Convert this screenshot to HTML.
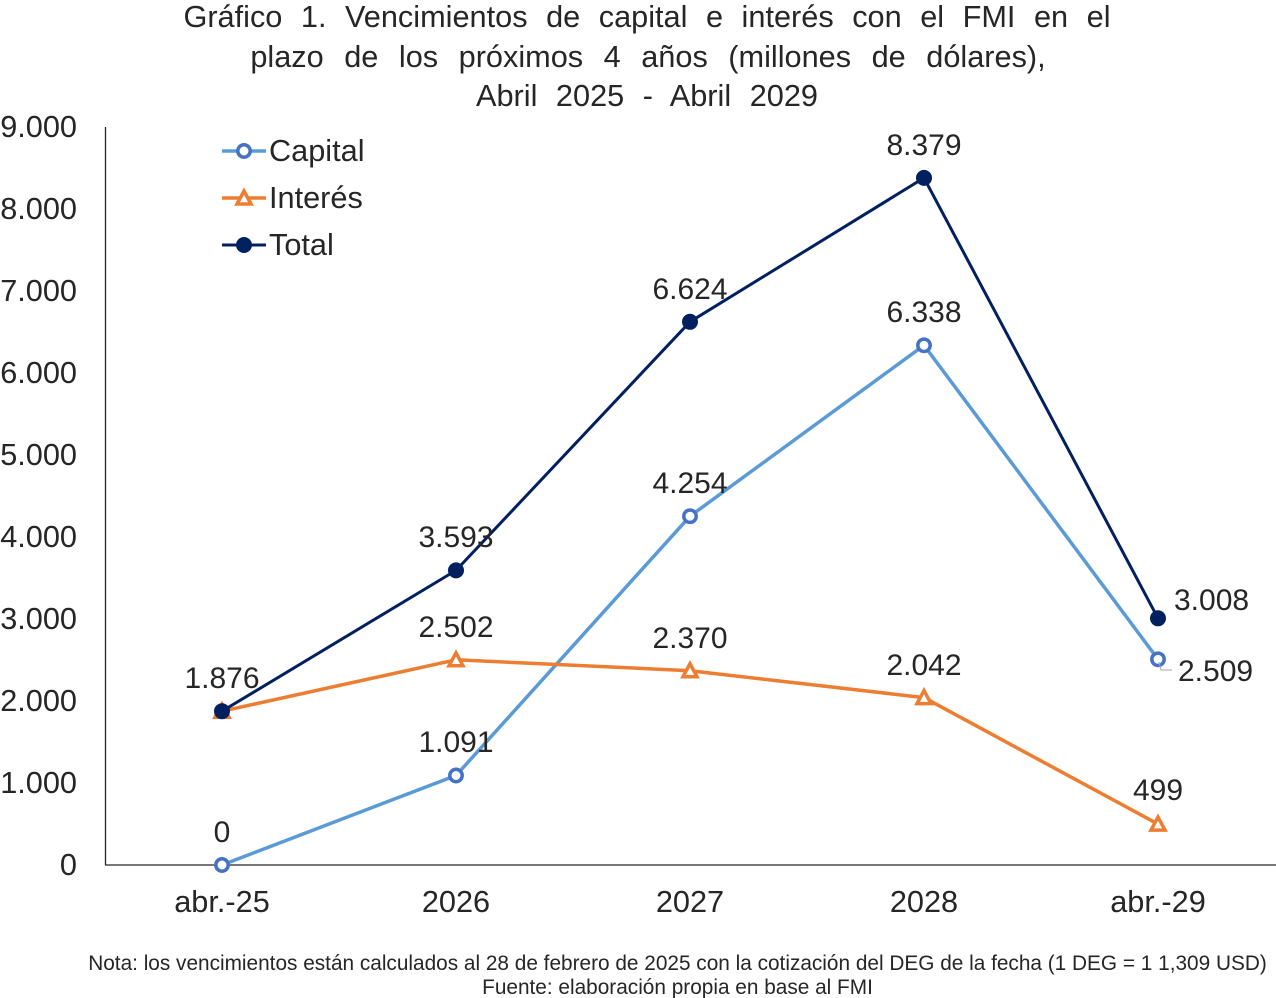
<!DOCTYPE html>
<html>
<head>
<meta charset="utf-8">
<style>
html,body{margin:0;padding:0;background:#fff;}
svg{display:block;}
text{font-family:"Liberation Sans",Arial,sans-serif;fill:#262626;}
</style>
</head>
<body>
<svg width="1276" height="998" viewBox="0 0 1276 998" xmlns="http://www.w3.org/2000/svg">
<rect width="1276" height="998" fill="#fff"/>
<!-- Title -->
<g font-size="30.7" text-anchor="middle">
<text x="647" y="27" style="word-spacing:10px">Gráfico 1. Vencimientos de capital e interés con el FMI en el</text>
<text x="648" y="67" style="word-spacing:12px">plazo de los próximos 4 años (millones de dólares),</text>
<text x="647" y="106" style="word-spacing:10px">Abril 2025 - Abril 2029</text>
</g>
<!-- Axes -->
<line x1="105.5" y1="127" x2="105.5" y2="865" stroke="#262626" stroke-width="1.3"/>
<line x1="105" y1="865" x2="1276" y2="865" stroke="#262626" stroke-width="1.3"/>
<!-- Y tick labels -->
<g font-size="30.7" text-anchor="end">
<text x="77" y="875">0</text>
<text x="77" y="793">1.000</text>
<text x="77" y="711">2.000</text>
<text x="77" y="629">3.000</text>
<text x="77" y="547">4.000</text>
<text x="77" y="465">5.000</text>
<text x="77" y="383">6.000</text>
<text x="77" y="301">7.000</text>
<text x="77" y="219">8.000</text>
<text x="77" y="137">9.000</text>
</g>
<!-- X labels -->
<g font-size="30.7" text-anchor="middle">
<text x="222" y="912">abr.-25</text>
<text x="456" y="912">2026</text>
<text x="690" y="912">2027</text>
<text x="924" y="912">2028</text>
<text x="1158" y="912">abr.-29</text>
</g>
<!-- Capital -->
<polyline points="222,865 456,775.5 690,516.2 924,345.3 1158,659.3" fill="none" stroke="#5B9BD5" stroke-width="3.5" stroke-linejoin="round"/>
<g fill="#fff" stroke="#4472C4" stroke-width="3.5">
<circle cx="222" cy="865" r="6.2"/>
<circle cx="456" cy="775.5" r="6.2"/>
<circle cx="690" cy="516.2" r="6.2"/>
<circle cx="924" cy="345.3" r="6.2"/>
<circle cx="1158" cy="659.3" r="6.2"/>
</g>
<!-- Interest -->
<polyline points="222,711.2 456,659.8 690,670.7 924,697.6 1158,824.1" fill="none" stroke="#ED7D31" stroke-width="3.5" stroke-linejoin="round"/>
<g fill="#fff" stroke="#ED7D31" stroke-width="3.5" stroke-linejoin="miter">
<polygon points="222,704.2 215,717.2 229,717.2"/>
<polygon points="456,652.8 449,665.8 463,665.8"/>
<polygon points="690,663.7 683,676.7 697,676.7"/>
<polygon points="924,690.6 917,703.6 931,703.6"/>
<polygon points="1158,817.1 1151,830.1 1165,830.1"/>
</g>
<!-- Total -->
<polyline points="222,711.2 456,570.4 690,321.8 924,177.9 1158,618.3" fill="none" stroke="#002060" stroke-width="3" stroke-linejoin="round"/>
<g fill="#002060">
<circle cx="222" cy="711.2" r="8"/>
<circle cx="456" cy="570.4" r="8"/>
<circle cx="690" cy="321.8" r="8"/>
<circle cx="924" cy="177.9" r="8"/>
<circle cx="1158" cy="618.3" r="8"/>
</g>
<!-- leader line -->
<polyline points="1159,662 1161,670 1172,670" fill="none" stroke="#A6A6A6" stroke-width="1"/>
<!-- Data labels -->
<g font-size="30" text-anchor="middle">
<text x="222" y="842">0</text>
<text x="456" y="752">1.091</text>
<text x="690" y="493">4.254</text>
<text x="924" y="322">6.338</text>
<text x="456" y="637">2.502</text>
<text x="690" y="648">2.370</text>
<text x="924" y="675">2.042</text>
<text x="1158" y="800">499</text>
<text x="222" y="688">1.876</text>
<text x="456" y="547">3.593</text>
<text x="690" y="299">6.624</text>
<text x="924" y="155">8.379</text>
</g>
<g font-size="30" text-anchor="start">
<text x="1174" y="610">3.008</text>
<text x="1178" y="681">2.509</text>
</g>
<!-- Legend -->
<line x1="222" y1="151" x2="266" y2="151" stroke="#5B9BD5" stroke-width="3.5"/>
<circle cx="244" cy="151" r="6.2" fill="#fff" stroke="#4472C4" stroke-width="3.5"/>
<line x1="222" y1="198" x2="266" y2="198" stroke="#ED7D31" stroke-width="3.5"/>
<polygon points="244,191 237,204 251,204" fill="#fff" stroke="#ED7D31" stroke-width="3.5"/>
<line x1="222" y1="245" x2="266" y2="245" stroke="#002060" stroke-width="3"/>
<circle cx="244" cy="245" r="8" fill="#002060"/>
<g font-size="30.7">
<text x="269" y="161">Capital</text>
<text x="269" y="208">Interés</text>
<text x="269" y="255">Total</text>
</g>
<!-- Footer -->
<g font-size="20.8" text-anchor="middle">
<text x="677.5" y="970">Nota: los vencimientos están calculados al 28 de febrero de 2025 con la cotización del DEG de la fecha (1 DEG = 1 1,309 USD)</text>
<text x="677.5" y="994">Fuente: elaboración propia en base al FMI</text>
</g>
</svg>
</body>
</html>
